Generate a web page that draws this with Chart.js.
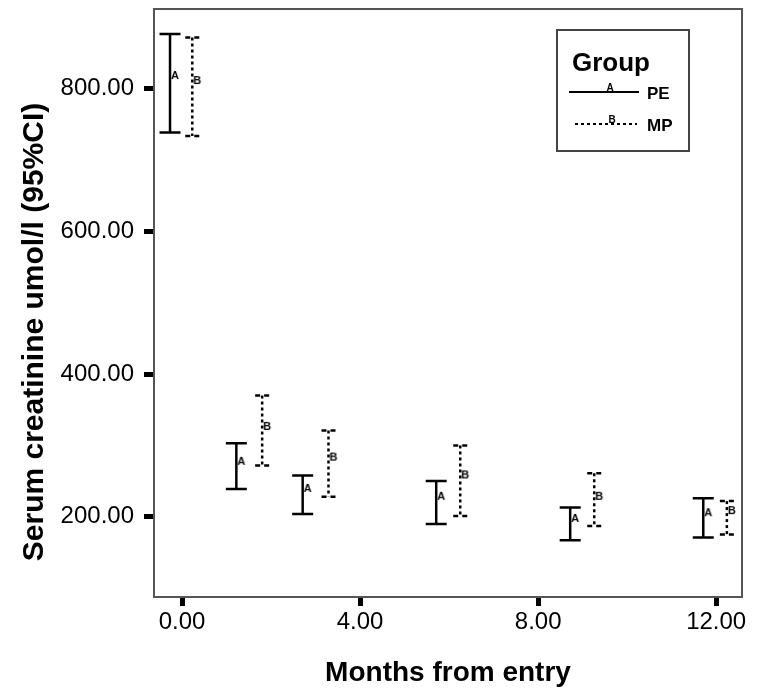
<!DOCTYPE html>
<html><head><meta charset="utf-8">
<script src="https://cdn.jsdelivr.net/npm/chart.js@4.4.1/dist/chart.umd.min.js"></script>
<style>html,body{margin:0;padding:0;background:#fff}</style>
</head><body>
<canvas id="c" width="758" height="690"></canvas>
<script>
// ---- data ----
const groups = ['PE', 'MP'];
const markerLetters = ['A', 'B'];
const xTicks = [0, 4, 8, 12];
const yTicks = [200, 400, 600, 800];
const peMonths = [-0.27, 1.22, 2.71, 5.71, 8.72, 11.71];
const peMean   = [818, 277, 239, 228, 197, 205];
const peLower  = [739, 239, 204, 190, 167, 171];
const peUpper  = [877, 303, 258, 250, 213, 226];
const mpMonths = [0.23, 1.80, 3.29, 6.25, 9.26, 12.24];
const mpMean   = [811, 326, 283, 258, 228, 208];
const mpLower  = [734, 272, 228, 201, 187, 175];
const mpUpper  = [872, 370, 321, 300, 261, 222];
const xTitle = 'Months from entry';
const yTitle = 'Serum creatinine umol/l (95%CI)';
const legendTitle = 'Group';

const FONT = '"Liberation Sans", Arial, Helvetica, sans-serif';

function letterMarker(letter) {
  const c = document.createElement('canvas');
  c.width = 26; c.height = 16;
  const g = c.getContext('2d');
  g.font = 'bold 11px ' + FONT;
  g.textAlign = 'center'; g.textBaseline = 'middle'; g.fillStyle = '#000';
  g.fillText(letter, 18, 8);
  return c;
}

const errorBarPlugin = {
  id: 'errorBars',
  beforeDatasetsDraw(chart) {
    const { ctx, scales: { x, y } } = chart;
    chart.data.datasets.forEach(ds => {
      const e = ds.errorBars;
      ctx.save();
      ctx.strokeStyle = '#000';
      ctx.lineWidth = e.width;
      ds.data.forEach((p, i) => {
        const px = x.getPixelForValue(p.x);
        const yl = y.getPixelForValue(e.lower[i]);
        const yh = y.getPixelForValue(e.upper[i]);
        ctx.setLineDash(e.dash);
        ctx.beginPath(); ctx.moveTo(px, yh); ctx.lineTo(px, yl); ctx.stroke();
        ctx.setLineDash(e.capDash);
        ctx.beginPath();
        ctx.moveTo(px - e.cap, yh); ctx.lineTo(px + e.cap, yh);
        ctx.moveTo(px - e.cap, yl); ctx.lineTo(px + e.cap, yl);
        ctx.stroke();
      });
      ctx.restore();
    });
  }
};

const framePlugin = {
  id: 'frame',
  afterDraw(chart) {
    const { ctx, chartArea: a } = chart;
    ctx.save();
    ctx.strokeStyle = '#555';
    ctx.lineWidth = 2;
    ctx.strokeRect(a.left, a.top, a.right - a.left, a.bottom - a.top);
    // y axis title
    ctx.translate(35, 332);
    ctx.rotate(-Math.PI / 2);
    ctx.font = 'bold 30px ' + FONT;
    ctx.fillStyle = '#000';
    ctx.textAlign = 'center'; ctx.textBaseline = 'middle';
    ctx.fillText(yTitle, 0, 0);
    ctx.restore();
  }
};

const legendPlugin = {
  id: 'boxLegend',
  afterDraw(chart) {
    const { ctx, chartArea: a } = chart;
    const L = a.right - 185, T = a.top + 21, W = 132, H = 121;
    ctx.save();
    ctx.strokeStyle = '#444'; ctx.lineWidth = 2;
    ctx.strokeRect(L, T, W, H);
    ctx.fillStyle = '#000';
    ctx.font = 'bold 26px ' + FONT;
    ctx.textBaseline = 'alphabetic'; ctx.textAlign = 'left';
    ctx.fillText(legendTitle, L + 15, T + 41);
    const rows = [
      { y: T + 62, x0: L + 12, x1: L + 82, dash: [], lx: L + 53 },
      { y: T + 94, x0: L + 18, x1: L + 80, dash: [3, 3], lx: L + 55 }
    ];
    chart.data.datasets.forEach((ds, i) => {
      const r = rows[i];
      ctx.strokeStyle = '#000'; ctx.lineWidth = 2;
      ctx.setLineDash(r.dash);
      ctx.beginPath(); ctx.moveTo(r.x0, r.y); ctx.lineTo(r.x1, r.y); ctx.stroke();
      ctx.setLineDash([]);
      ctx.font = 'bold 10px ' + FONT;
      ctx.textAlign = 'center'; ctx.textBaseline = 'alphabetic';
      ctx.fillText(markerLetters[i], r.lx, r.y - 1);
      ctx.font = 'bold 17px ' + FONT;
      ctx.textAlign = 'left'; ctx.textBaseline = 'middle';
      ctx.fillText(ds.label, L + 90, r.y + 2);
    });
    ctx.restore();
  }
};

const datasets = [
  {
    label: groups[0],
    data: peMonths.map((m, i) => ({ x: m, y: peMean[i] })),
    pointStyle: letterMarker(markerLetters[0]),
    errorBars: { lower: peLower, upper: peUpper, width: 2.5, cap: 10.5, dash: [], capDash: [] }
  },
  {
    label: groups[1],
    data: mpMonths.map((m, i) => ({ x: m, y: mpMean[i] })),
    pointStyle: letterMarker(markerLetters[1]),
    errorBars: { lower: mpLower, upper: mpUpper, width: 2.5, cap: 7, dash: [3, 3], capDash: [5, 4] }
  }
];

new Chart(document.getElementById('c'), {
  type: 'scatter',
  data: { datasets },
  options: {
    responsive: false,
    animation: false,
    events: [],
    layout: { padding: { top: 8.5, right: 16, bottom: 0, left: 0 } },
    plugins: { legend: { display: false }, tooltip: { enabled: false } },
    scales: {
      x: {
        type: 'linear', min: -0.63, max: 12.58,
        afterBuildTicks: s => { s.ticks = xTicks.map(v => ({ value: v })); },
        afterFit: s => { s.height = 93; s.paddingLeft = 0; s.paddingRight = 0; },
        ticks: { callback: v => Number(v).toFixed(2), font: { size: 24, family: FONT }, color: '#000', padding: 2, maxRotation: 0, autoSkip: false },
        grid: { drawOnChartArea: false, drawTicks: true, tickLength: 9, tickWidth: 5, tickColor: '#000' },
        border: { display: false },
        title: { display: true, text: xTitle, font: { size: 28, weight: 'bold', family: FONT }, color: '#000', padding: { top: 0, bottom: 0 } }
      },
      y: {
        type: 'linear', min: 87.5, max: 912,
        afterBuildTicks: s => { s.ticks = yTicks.map(v => ({ value: v })); },
        afterFit: s => { s.width = 154; s.paddingTop = 0; s.paddingBottom = 0; },
        ticks: { callback: v => Number(v).toFixed(2), font: { size: 24, family: FONT }, color: '#000', padding: 10, autoSkip: false },
        grid: { drawOnChartArea: false, drawTicks: true, tickLength: 10, tickWidth: 5, tickColor: '#000' },
        border: { display: false },
        title: { display: false }
      }
    },
    elements: { point: { radius: 8 } }
  },
  plugins: [errorBarPlugin, framePlugin, legendPlugin]
});
</script>
</body></html>
